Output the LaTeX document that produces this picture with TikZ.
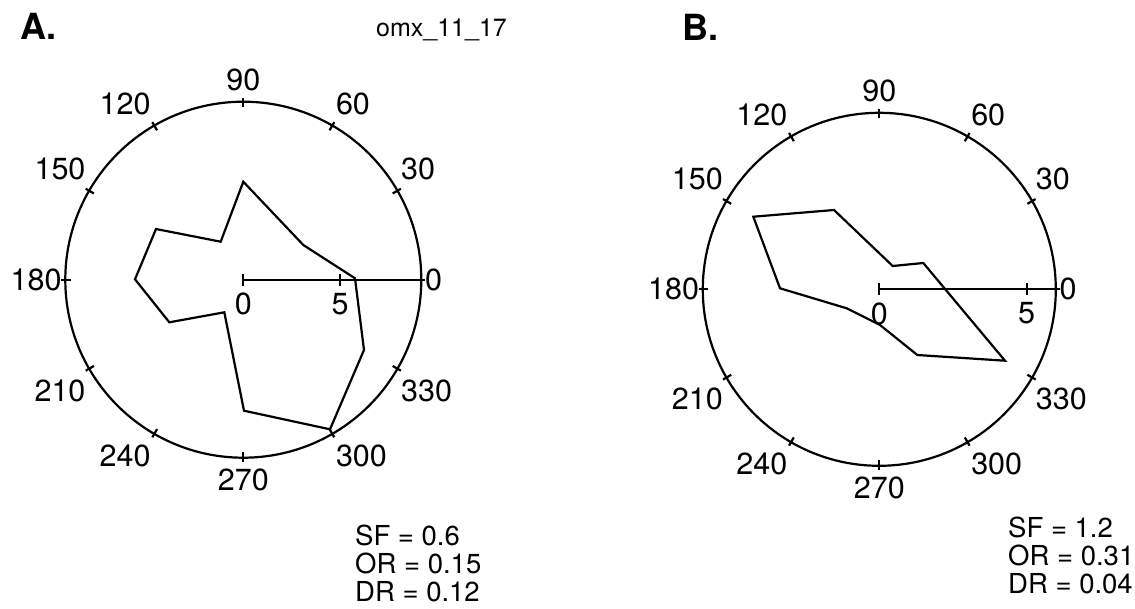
\documentclass[tikz,border=0pt]{standalone}
\usepackage{fontspec}
\setmainfont{TeX Gyre Heros}
\usetikzlibrary{calc}
\tikzset{plotline/.style={line width=2.2pt}}
\tikzset{ticklab/.style={font=\fontsize{30.5}{30.5}\selectfont, inner xsep=3.5pt, inner ysep=10.5pt}}
\tikzset{axislab/.style={font=\fontsize{30.5}{30.5}\selectfont, anchor=north, inner xsep=0pt, inner ysep=13pt}}
\tikzset{stats/.style={font=\fontsize{27.5}{28}\selectfont, align=left, anchor=north west, inner sep=0pt}}
\tikzset{panel/.style={font=\fontsize{36}{36}\selectfont\bfseries, anchor=base west, inner sep=0pt}}

\begin{document}
\begin{tikzpicture}[x=1pt,y=-1pt]
\path[use as bounding box, fill=white] (0,0) rectangle (1135,608);
\coordinate (cA) at (243.3,279.7);
\coordinate (cB) at (879.3,289.3);
% circles, ticks and angle labels
\foreach \c/\r in {cA/178,cB/176.5} {
  \draw[plotline] (\c) circle (\r);
  \foreach \a/\an in {0/west,30/south west,60/south west,90/south,120/south east,150/south east,
                      180/east,210/north east,240/north east,270/north,300/north west,330/north west} {
    \draw[plotline] ($(\c)+(-\a:\r-5.5)$) -- ($(\c)+(-\a:\r+4)$);
    \node[ticklab, anchor=\an] (\c-\a) at ($(\c)+(-\a:\r)$) {\a};
  }
}
% radial scale
\coordinate (fiveA) at (340,279.7);
\coordinate (endA) at (421.3,279.7);
\draw[plotline] (cA) -- (endA);
\draw[plotline] ([yshift=-6pt]cA) -- ([yshift=6pt]cA);
\draw[plotline] ([yshift=-6pt]fiveA) -- ([yshift=6pt]fiveA);
\node[axislab] (zeroA) at (cA) {0};
\node[axislab] (markA) at (fiveA) {5};
\coordinate (fiveB) at (1026.7,289.3);
\coordinate (endB) at (1055.8,289.3);
\draw[plotline] (cB) -- (endB);
\draw[plotline] ([yshift=-6pt]cB) -- ([yshift=6pt]cB);
\draw[plotline] ([yshift=-6pt]fiveB) -- ([yshift=6pt]fiveB);
\node[axislab] (zeroB) at (cB) {0};
\node[axislab] (markB) at (fiveB) {5};
% tuning curves
\draw[plotline] (243.3,181.7) -- (303.3,245) -- (355,278.3) -- (364,350) -- (330,429.3)
  -- (244,410.7) -- (224.3,312.3) -- (169.3,322.3) -- (135,279.3) -- (156,229) -- (220.7,241.7) -- cycle;
\draw[plotline] (753.3,216.7) -- (834,210) -- (892.7,266) -- (923.3,263) -- (1005,360.7)
  -- (917.3,355) -- (880,325) -- (846.7,308.3) -- (780,288.3) -- cycle;
% titles and values
\node[panel] (labA) at (20,39.5) {A.};
\node[panel] (labB) at (682,40.5) {B.};
\node[font=\fontsize{25}{25}\selectfont, anchor=base west, inner sep=0pt] (run) at (376,36.7) {omx\_11\_17};
\node[stats] (statA) at (355,524.5) {SF = 0.6\\OR = 0.15\\DR = 0.12};
\node[stats] (statB) at (1008,517) {SF = 1.2\\OR = 0.31\\DR = 0.04};
\end{tikzpicture}
\end{document}
